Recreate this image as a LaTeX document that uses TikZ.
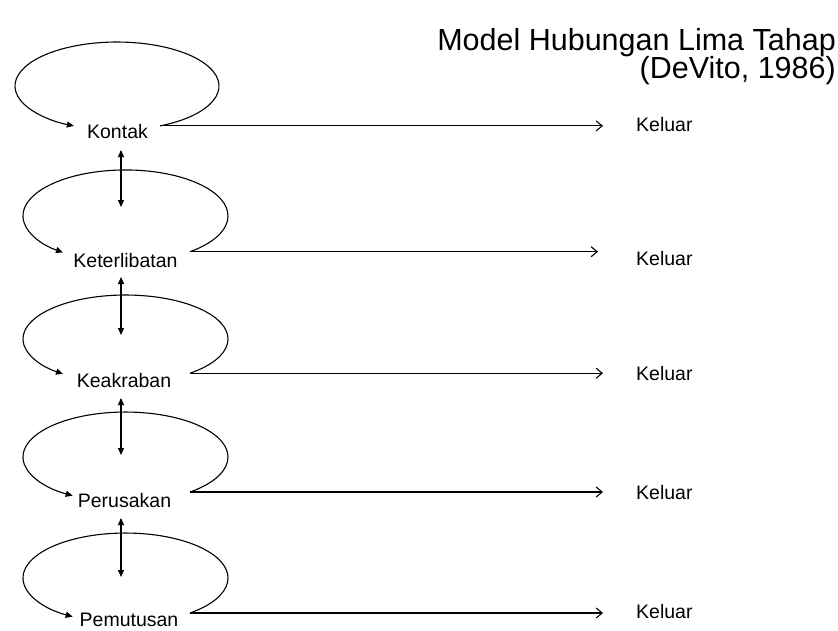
\documentclass[tikz,border=0pt]{standalone}
\usepackage{fontspec}
\setmainfont{Liberation Sans}
\usetikzlibrary{arrows.meta}
\begin{document}
\begin{tikzpicture}[x=1pt,y=-1pt,
  lbl/.style={inner sep=0pt, anchor=base, font=\fontsize{19.5}{22}\selectfont},
  outlbl/.style={inner sep=0pt, anchor=base west, font=\fontsize{19.5}{22}\selectfont},
  ttl/.style={inner sep=0pt, anchor=base east, font=\fontsize{30.5}{34}\selectfont},
  loopline/.style={line width=1.1pt, -{Triangle[length=7pt,width=6pt]}},
  exitline/.style={line width=1.1pt, -{Straight Barb[length=6pt,width=10pt]}},
  linkline/.style={line width=1.2pt, {Triangle[length=7pt,width=6pt]}-{Triangle[length=7pt,width=6pt]}},
]
\useasboundingbox (0,0) rectangle (838,630);

% title
\node[ttl] (t1) at (836,50) {Model Hubungan Lima Tahap};
\node[ttl] (t2) at (836,78) {(DeVito, 1986)};

% stage labels
\node[lbl] (kontak) at (117.5,138) {Kontak};
\node[lbl] (keter) at (125.5,267) {Keterlibatan};
\node[lbl] (keak) at (124,387) {Keakraban};
\node[lbl] (perus) at (124.5,507) {Perusakan};
\node[lbl] (pemut) at (129,626) {Pemutusan};

% exit labels
\node[outlbl] (k1) at (636,131) {Keluar};
\node[outlbl] (k2) at (636,265) {Keluar};
\node[outlbl] (k3) at (636,380) {Keluar};
\node[outlbl] (k4) at (636,499) {Keluar};
\node[outlbl] (k5) at (636,618) {Keluar};

% loop start points
\coordinate (s1) at (160.1,125.9);
\coordinate (s2) at (190,251.7);
\coordinate (s3) at (190,373.2);
\coordinate (s4) at (190,492);
\coordinate (s5) at (190,613);

% loops
\draw[loopline] (s1) arc[start angle=-65, end angle=245, x radius=102pt, y radius=44pt];
\draw[loopline] (s2) arc[start angle=-51, end angle=232.4, x radius=102.5pt, y radius=46pt];
\draw[loopline] (s3) arc[start angle=-51, end angle=232.4, x radius=102.5pt, y radius=44pt];
\draw[loopline] (s4) arc[start angle=-51, end angle=239, x radius=102.5pt, y radius=45pt];
\draw[loopline] (s5) arc[start angle=-51, end angle=239, x radius=102.5pt, y radius=45pt];

% exit arrows
\coordinate (e1) at (603,125.9);
\coordinate (e2) at (598,251.7);
\coordinate (e3) at (603,373.2);
\coordinate (e4) at (603,492);
\coordinate (e5) at (603,613);
\draw[exitline] (s1) -- (e1);
\draw[exitline] (s2) -- (e2);
\draw[exitline] (s3) -- (e3);
\draw[exitline] (s4) -- (e4);
\draw[exitline] (s5) -- (e5);

% links between stages
\coordinate (u1) at (121,150); \coordinate (d1) at (121,207);
\coordinate (u2) at (121,277); \coordinate (d2) at (121,335);
\coordinate (u3) at (121,398); \coordinate (d3) at (121,455);
\coordinate (u4) at (121,518); \coordinate (d4) at (121,577);
\draw[linkline] (u1) -- (d1);
\draw[linkline] (u2) -- (d2);
\draw[linkline] (u3) -- (d3);
\draw[linkline] (u4) -- (d4);
\end{tikzpicture}
\end{document}
